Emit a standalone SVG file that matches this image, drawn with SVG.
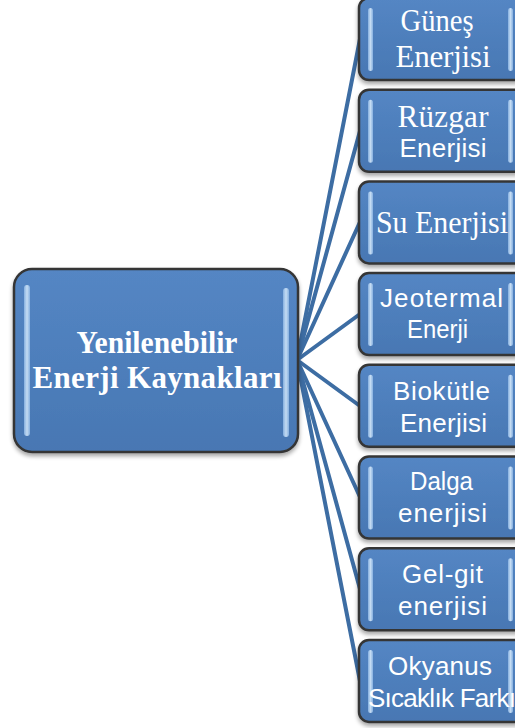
<svg xmlns="http://www.w3.org/2000/svg" width="515" height="728" viewBox="0 0 515 728">
<defs>
<linearGradient id="fillG" x1="0" y1="0" x2="0" y2="1">
<stop offset="0" stop-color="#5486c4"/>
<stop offset="1" stop-color="#4877b3"/>
</linearGradient>
<linearGradient id="barG" x1="0" y1="0" x2="1" y2="0">
<stop offset="0" stop-color="#8fb8e6"/>
<stop offset="0.5" stop-color="#d9ecfc"/>
<stop offset="1" stop-color="#8fb8e6"/>
</linearGradient>
<filter id="sh" x="-10%" y="-10%" width="120%" height="130%">
<feGaussianBlur in="SourceAlpha" stdDeviation="2"/>
<feOffset dx="0" dy="3" result="b"/>
<feComponentTransfer><feFuncA type="linear" slope="0.35"/></feComponentTransfer>
<feMerge><feMergeNode/><feMergeNode in="SourceGraphic"/></feMerge>
</filter>
</defs>
<style>
.box{fill:url(#fillG);stroke:#353535;stroke-width:2.5;filter:url(#sh)}
.bar{fill:url(#barG);opacity:0.85}
.ser{font-family:"Liberation Serif","Times New Roman",serif;font-size:31px;fill:#ffffff;text-anchor:middle}
.serb{font-family:"Liberation Serif","Times New Roman",serif;font-size:31px;font-weight:bold;fill:#ffffff;text-anchor:middle}
.san{font-family:"Liberation Sans",Arial,sans-serif;font-size:26px;fill:#ffffff;text-anchor:middle}
.con line{stroke:#3d6da3;stroke-width:4;stroke-linecap:round}
</style>
<g class="con" id="connectors">
<line x1="297" y1="360" x2="360" y2="39"/>
<line x1="297" y1="360" x2="360" y2="131"/>
<line x1="297" y1="360" x2="360" y2="222"/>
<line x1="297" y1="360" x2="360" y2="314"/>
<line x1="297" y1="360" x2="360" y2="406"/>
<line x1="297" y1="360" x2="360" y2="497"/>
<line x1="297" y1="360" x2="360" y2="589"/>
<line x1="297" y1="360" x2="360" y2="681"/>
</g>
<g id="center">
<rect class="box" x="14" y="269" width="284" height="183" rx="18"/>
<rect class="bar" x="24" y="285" width="6" height="151" rx="3"/>
<rect class="bar" x="283" y="288" width="6" height="149" rx="3"/>
<text class="serb" x="157" y="353" textLength="161" lengthAdjust="spacingAndGlyphs">Yenilenebilir</text>
<text class="serb" x="157" y="388" textLength="249" lengthAdjust="spacing">Enerji Kaynakları</text>
</g>
<g id="n1">
<rect class="box" x="359" y="-2" width="166" height="82" rx="10"/>
<rect class="bar" x="368" y="8" width="5" height="63" rx="2.5"/>
<rect class="bar" x="508" y="8" width="5" height="63" rx="2.5"/>
<text class="ser" x="437" y="31" textLength="73" lengthAdjust="spacingAndGlyphs">Güneş</text>
<text class="ser" x="443" y="67" textLength="95" lengthAdjust="spacing">Enerjisi</text>
</g>
<g id="n2">
<rect class="box" x="359" y="89.7" width="166" height="82" rx="10"/>
<rect class="bar" x="368" y="99.7" width="5" height="63" rx="2.5"/>
<rect class="bar" x="508" y="99.7" width="5" height="63" rx="2.5"/>
<text class="ser" x="443" y="127" textLength="91" lengthAdjust="spacing">Rüzgar</text>
<text class="san" x="443" y="157" textLength="87" lengthAdjust="spacing">Enerjisi</text>
</g>
<g id="n3">
<rect class="box" x="359" y="181.4" width="166" height="82" rx="10"/>
<rect class="bar" x="368" y="191.4" width="5" height="63" rx="2.5"/>
<rect class="bar" x="508" y="191.4" width="5" height="63" rx="2.5"/>
<text class="ser" x="442" y="233" textLength="132" lengthAdjust="spacingAndGlyphs">Su Enerjisi</text>
</g>
<g id="n4">
<rect class="box" x="359" y="273.1" width="166" height="82" rx="10"/>
<rect class="bar" x="368" y="283.1" width="5" height="63" rx="2.5"/>
<rect class="bar" x="508" y="283.1" width="5" height="63" rx="2.5"/>
<text class="san" x="441.5" y="307" textLength="123" lengthAdjust="spacing">Jeotermal</text>
<text class="san" x="437.5" y="338" textLength="61" lengthAdjust="spacingAndGlyphs">Enerji</text>
</g>
<g id="n5">
<rect class="box" x="359" y="364.8" width="166" height="82" rx="10"/>
<rect class="bar" x="368" y="374.8" width="5" height="63" rx="2.5"/>
<rect class="bar" x="508" y="374.8" width="5" height="63" rx="2.5"/>
<text class="san" x="441.5" y="400" textLength="97" lengthAdjust="spacing">Biokütle</text>
<text class="san" x="443.5" y="432" textLength="87" lengthAdjust="spacing">Enerjisi</text>
</g>
<g id="n6">
<rect class="box" x="359" y="456.5" width="166" height="82" rx="10"/>
<rect class="bar" x="368" y="466.5" width="5" height="63" rx="2.5"/>
<rect class="bar" x="508" y="466.5" width="5" height="63" rx="2.5"/>
<text class="san" x="441.5" y="490" textLength="63" lengthAdjust="spacingAndGlyphs">Dalga</text>
<text class="san" x="442.5" y="522" textLength="89" lengthAdjust="spacing">enerjisi</text>
</g>
<g id="n7">
<rect class="box" x="359" y="548.2" width="166" height="82" rx="10"/>
<rect class="bar" x="368" y="558.2" width="5" height="63" rx="2.5"/>
<rect class="bar" x="508" y="558.2" width="5" height="63" rx="2.5"/>
<text class="san" x="442.5" y="583" textLength="81" lengthAdjust="spacing">Gel-git</text>
<text class="san" x="442.5" y="615" textLength="89" lengthAdjust="spacing">enerjisi</text>
</g>
<g id="n8">
<rect class="box" x="359" y="639.9" width="166" height="82" rx="10"/>
<rect class="bar" x="368" y="649.9" width="5" height="63" rx="2.5"/>
<rect class="bar" x="508" y="649.9" width="5" height="63" rx="2.5"/>
<text class="san" x="440" y="675" textLength="104" lengthAdjust="spacing">Okyanus</text>
<text class="san" x="442" y="707" textLength="148" lengthAdjust="spacing">Sıcaklık Farkı</text>
</g>
</svg>
